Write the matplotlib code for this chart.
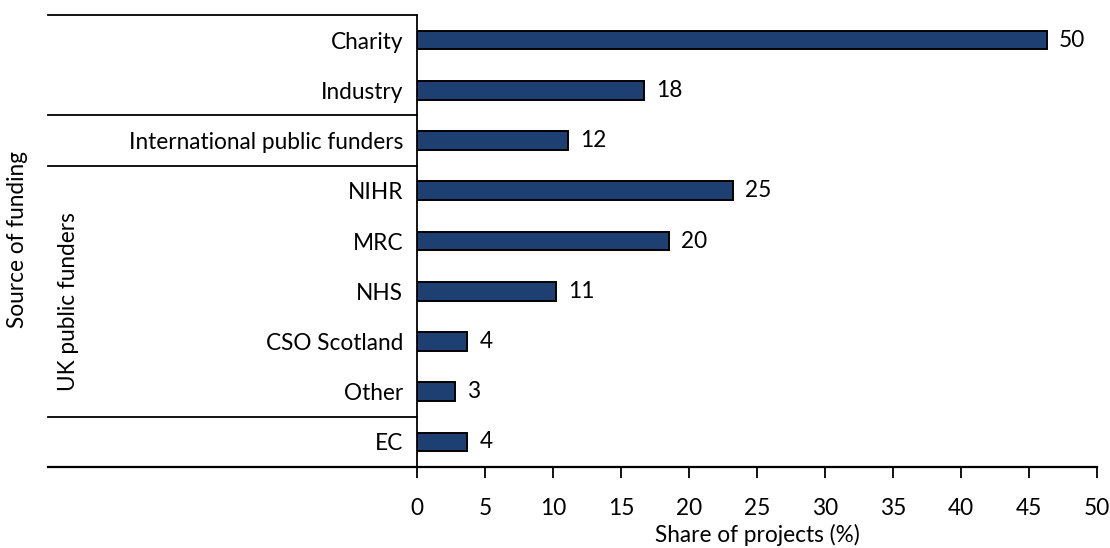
import matplotlib
matplotlib.use("Agg")
import matplotlib.pyplot as plt

plt.rcParams["font.family"] = ["Lato", "DejaVu Sans"]

# Funding sources, top to bottom
sources = ["Charity", "Industry", "International public funders", "NIHR", "MRC",
           "NHS", "CSO Scotland", "Other", "EC"]
bar_lengths = [46.3, 16.7, 11.1, 23.2, 18.5, 10.2, 3.7, 2.8, 3.7]
value_labels = ["50", "18", "12", "25", "20", "11", "4", "3", "4"]
group_breaks = [1.5, 2.5, 7.5]
group_name = "UK public funders"
group_rows = (3, 7)
xticks = list(range(0, 55, 5))

FS = 16.3

fig = plt.figure(figsize=(11.1, 5.48), dpi=100)
ax = fig.add_axes([417 / 1110, 1 - 467 / 548, 680 / 1110, 452 / 548])

rows = list(range(len(sources)))
ax.barh(rows, bar_lengths, height=0.37, color="#1d3f72", edgecolor="black", linewidth=1.4)
for r, v, lab in zip(rows, bar_lengths, value_labels):
    ax.text(v + 0.9, r, lab, va="center", ha="left", fontsize=FS)

ax.set_ylim(len(sources) - 0.5, -0.5)
ax.set_xlim(0, 50)
ax.set_yticks(rows)
ax.set_yticklabels(sources, fontsize=FS)
ax.set_xticks(xticks)
ax.tick_params(axis="y", length=0, pad=10)
ax.tick_params(axis="x", length=8, width=1.3, labelsize=FS, pad=14)

for s in ["top", "right", "bottom"]:
    ax.spines[s].set_visible(False)
ax.spines["left"].set_linewidth(1.3)

# separator lines left of the axis
left_x = (48 - 417) / 680
for y in [-0.5] + group_breaks:
    ax.plot([left_x, 0], [y, y], transform=ax.get_yaxis_transform(),
            color="black", linewidth=1.3, clip_on=False)
ax.plot([left_x, 1], [len(sources) - 0.5] * 2, transform=ax.get_yaxis_transform(),
        color="black", linewidth=1.6, clip_on=False)

ax.text((68 - 417) / 680, 5.2, group_name, rotation=90,
        transform=ax.get_yaxis_transform(), ha="center", va="center", fontsize=FS)

fig.text(18 / 1110, 1 - 240 / 548, "Source of funding", rotation=90,
         ha="center", va="center", fontsize=FS)
ax.set_xlabel("Share of projects (%)", fontsize=FS, labelpad=4)

fig.savefig("out.png", dpi=100)
